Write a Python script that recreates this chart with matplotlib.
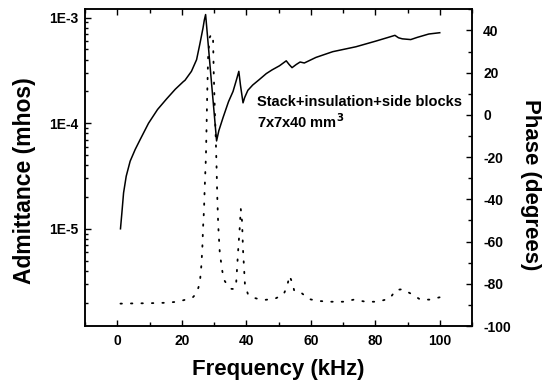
import matplotlib
matplotlib.use("Agg")
import matplotlib.pyplot as plt
from matplotlib.ticker import FixedLocator, MultipleLocator, LogLocator, NullFormatter

plt.rcParams['font.family'] = ['Liberation Sans', 'DejaVu Sans']
plt.rcParams['font.weight'] = 'bold'
plt.rcParams['axes.unicode_minus'] = False

# Admittance (mhos) vs frequency (kHz)
freq_adm = [1, 1.44, 1.96, 2.78, 4.0, 5.56, 7.1, 9.7, 12.5, 15.3, 18.0, 20.5, 21.0, 23.0,
            24.6, 25.6, 26.6, 27.0, 27.4, 28.2, 29.0, 30.0, 30.8, 31.5, 32.8, 34.5,
            35.9, 37.0, 37.7, 38.2, 39.0, 39.5, 40.5, 42.0, 44.1, 46.2, 48.0, 50.3,
            52.4, 53.3, 54.2, 55.5, 56.7, 58.0, 61.6, 66.8, 74.0, 80.2, 84.0, 86.1,
            87.2, 88.4, 91.0, 93.0, 96.6, 100]
admittance = [1.0e-5, 1.42e-5, 2.19e-5, 3.15e-5, 4.37e-5, 5.64e-5, 7.0e-5, 1.0e-4,
              1.35e-4, 1.7e-4, 2.1e-4, 2.48e-4, 2.55e-4, 3.1e-4, 4.0e-4, 5.6e-4,
              8.0e-4, 9.5e-4, 1.07e-3, 5.6e-4, 2.9e-4, 1.3e-4, 6.8e-5, 8.5e-5,
              1.13e-4, 1.6e-4, 2.0e-4, 2.6e-4, 3.1e-4, 2.3e-4, 1.56e-4, 1.75e-4,
              2.05e-4, 2.3e-4, 2.6e-4, 2.95e-4, 3.2e-4, 3.5e-4, 3.9e-4, 3.6e-4,
              3.36e-4, 3.6e-4, 3.8e-4, 3.72e-4, 4.2e-4, 4.76e-4, 5.3e-4, 6.0e-4,
              6.5e-4, 6.8e-4, 6.45e-4, 6.3e-4, 6.2e-4, 6.5e-4, 7.0e-4, 7.2e-4]

# Phase (degrees) vs frequency (kHz)
freq_ph = [1, 5, 10, 15, 18, 20, 22, 23.5, 24.6, 25.6, 26.1, 26.4, 26.6, 26.9, 27.1,
           27.3, 27.5, 27.7, 27.9, 28.2, 28.7, 29.2, 29.7, 29.9, 30.2, 30.6, 30.8,
           31.0, 31.3, 31.8, 32.6, 33.3, 34.3, 35.4, 36.3, 36.9, 37.5, 38.0, 38.3,
           38.7, 39.0, 39.3, 39.6, 40.5, 42, 44, 46, 49, 51.6, 52.7, 53.4, 54.2,
           54.9, 57, 59.4, 62, 66, 70, 73.4, 77, 80, 82, 84.5, 86.4, 88.5, 91.3,
           94, 96.8, 100]
phase = [-89.4, -89.3, -89.2, -89.0, -88.6, -88.0, -87.2, -86.3, -84.5, -79.7, -71,
         -62.3, -53.6, -44.9, -35.4, -27.5, -19.6, -5, 10, 28.7, 36.8, 38.2, 36.7,
         20.8, 5, -14, -25, -38, -52, -65.5, -74.2, -78.6, -81, -82.4, -82.5, -79,
         -64, -53, -44.5, -50.5, -64, -72, -80.5, -84.8, -86.5, -87.3, -87.6, -87,
         -85, -81, -76.2, -79.2, -83.4, -84.2, -87.2, -88.1, -88.5, -88.5, -87.5,
         -88.5, -88.5, -88, -87, -82.9, -82.6, -84.9, -87.5, -87.5, -86.4]

x_major = [0, 20, 40, 60, 80, 100]
y_left_ticks = [1e-5, 1e-4, 1e-3]
y_left_labels = ['1E-5', '1E-4', '1E-3']
y_right_ticks = [-100, -80, -60, -40, -20, 0, 20, 40]

fig = plt.figure(figsize=(5.43, 3.92), dpi=100)
ax1 = fig.add_axes([85/543, 1-326/392, (472-85)/543, (326-9.3)/392])
ax2 = ax1.twinx()

ax1.plot(freq_adm, admittance, color='black', lw=1.1)
ax2.plot(freq_ph, phase, color='black', lw=1.3, linestyle=(0, (0.8, 5.0)),
         dash_capstyle='round')

ax1.set_xlim(-10, 110)
ax1.set_yscale('log')
ax1.set_ylim(1.2e-6, 1.2e-3)
ax2.set_ylim(-100, 50)

ax1.xaxis.set_major_locator(FixedLocator(x_major))
ax1.xaxis.set_minor_locator(MultipleLocator(10))
ax1.yaxis.set_major_locator(FixedLocator(y_left_ticks))
ax1.set_yticklabels(y_left_labels)
ax1.yaxis.set_minor_locator(LogLocator(base=10, subs=[2, 3, 4, 5, 6, 7, 8, 9], numticks=20))
ax1.yaxis.set_minor_formatter(NullFormatter())
ax2.yaxis.set_major_locator(FixedLocator(y_right_ticks))
ax2.yaxis.set_minor_locator(MultipleLocator(10))

for ax in (ax1, ax2):
    for s in ax.spines.values():
        s.set_linewidth(1.1)

ax1.tick_params(axis='x', which='both', direction='in', top=True, bottom=True,
                labelsize=10, pad=6, width=1.0)
ax1.tick_params(axis='x', which='major', length=4)
ax1.tick_params(axis='x', which='minor', length=3)
ax1.tick_params(axis='y', which='both', direction='in', left=True, right=False,
                labelsize=10, pad=5, width=1.0)
ax1.tick_params(axis='y', which='major', length=4)
ax1.tick_params(axis='y', which='minor', length=2.5)
ax2.tick_params(axis='y', which='both', direction='in', right=True, left=False,
                labelsize=10, pad=8, width=1.0)
ax2.tick_params(axis='y', which='major', length=4)
ax2.tick_params(axis='y', which='minor', length=3)

for lab in ax1.get_xticklabels() + ax1.get_yticklabels() + ax2.get_yticklabels():
    lab.set_fontweight('bold')

fig.text(25/543, 1-181/392, 'Admittance (mhos)', rotation=90, ha='center', va='center',
         fontsize=16.5, fontweight='bold')
fig.text(278/543, 1-370/392, 'Frequency (kHz)', ha='center', va='center',
         fontsize=16, fontweight='bold')
fig.text(530/543, 1-185/392, 'Phase (degrees)', rotation=270, ha='center', va='center',
         fontsize=16, fontweight='bold')

fig.text(257/543, 1-106/392, 'Stack+insulation+side blocks', ha='left', va='baseline',
         fontsize=10.5, fontweight='bold')
fig.text(257/543, 1-128/392, r'7x7x40 mm$^\mathbf{3}$', ha='left', va='baseline',
         fontsize=10.5, fontweight='bold')

fig.savefig('out.png', dpi=100)
